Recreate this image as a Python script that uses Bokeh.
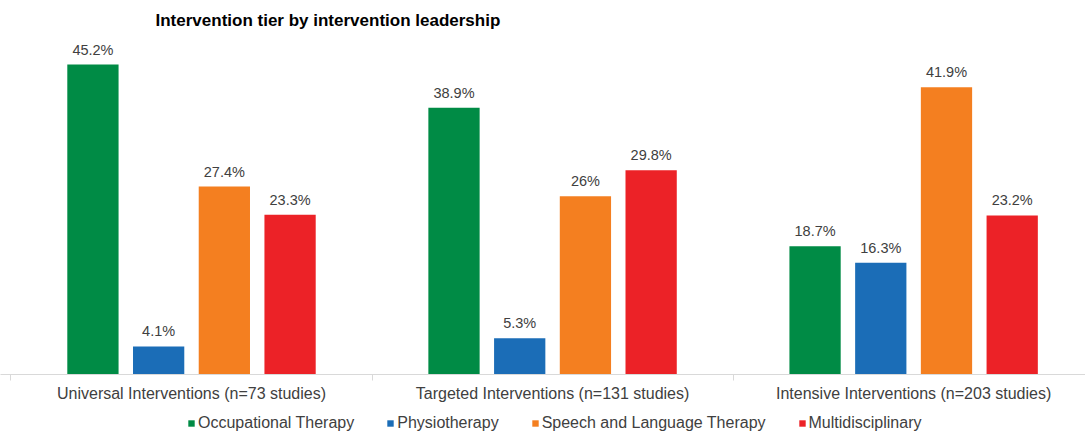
from bokeh.plotting import figure
from bokeh.layouts import column
from bokeh.models import (ColumnDataSource, Range1d, FixedTicker, LabelSet,
                          Legend, LegendItem)
from bokeh.core.properties import value
from bokeh.transform import dodge
from bokeh.embed import file_html
from bokeh.resources import INLINE

# ---- data ----
categories = ["Universal Interventions (n=73 studies)",
              "Targeted Interventions (n=131 studies)",
              "Intensive Interventions (n=203 studies)"]
series = ["Occupational Therapy", "Physiotherapy",
          "Speech and Language Therapy", "Multidisciplinary"]
occupational = [45.2, 38.9, 18.7]
physiotherapy = [4.1, 5.3, 16.3]
speech = [27.4, 26.0, 41.9]
multidisciplinary = [23.3, 29.8, 23.2]
values = [occupational, physiotherapy, speech, multidisciplinary]
colors = ["#008B45", "#1B6DB7", "#F47F20", "#EC2227"]
title_text = "Intervention tier by intervention leadership"

FONT = "Liberation Sans"
TXT = "#404040"

W = 1085
H_CHART, H_LEG = 408, 26

p = figure(width=W, height=H_CHART, output_backend="svg", toolbar_location=None,
           x_range=Range1d(-0.529, 2.476), y_range=Range1d(0, 50.16),
           y_axis_location=None, title=title_text,
           min_border_left=0, min_border_right=0,
           min_border_top=30, min_border_bottom=34)
p.outline_line_color = None
p.xgrid.grid_line_color = None
p.ygrid.grid_line_color = None
p.background_fill_color = "white"
p.border_fill_color = "white"

p.title.text_font = FONT
p.title.text_font_size = "17px"
p.title.text_font_style = "bold"
p.title.text_color = "#000000"
p.title.align = "left"
p.title.offset = 155
p.title.standoff = 2

idx = list(range(len(categories)))
offsets = [-0.273, -0.091, 0.091, 0.273]
bar_w = 0.142

sources = []
for name, vals, col, off in zip(series, values, colors, offsets):
    src = ColumnDataSource(dict(x=idx, v=vals, lab=[f"{v:g}%" for v in vals]))
    sources.append(src)
    p.vbar(x=dodge("x", off, range=p.x_range), top="v", width=bar_w,
           source=src, fill_color=col, line_color=None)
    ls = LabelSet(x=dodge("x", off, range=p.x_range), y="v", text="lab",
                  source=src, text_align="center", text_baseline="bottom",
                  y_offset=7, text_font=value(FONT), text_font_size=value("14.5px"),
                  text_color=TXT)
    p.add_layout(ls)

ax = p.xaxis[0]
ax.ticker = FixedTicker(ticks=idx, minor_ticks=[i - 0.5 for i in range(len(categories) + 1)])
ax.major_label_overrides = {i: c for i, c in enumerate(categories)}
ax.axis_line_color = "#D9D9D9"
ax.axis_line_width = 1
ax.major_tick_line_color = None
ax.major_tick_out = 0
ax.major_tick_in = 0
ax.minor_tick_line_color = "#D9D9D9"
ax.minor_tick_out = 6
ax.minor_tick_in = 0
ax.major_label_standoff = 4
ax.major_label_text_font = FONT
ax.major_label_text_font_size = "16px"
ax.major_label_text_color = TXT

# ---- legend strip (separate figure below the chart) ----
pl = figure(width=W, height=H_LEG, output_backend="svg", toolbar_location=None,
            x_range=Range1d(0, 1), y_range=Range1d(0, 1),
            x_axis_location=None, y_axis_location=None, min_border=0)
pl.outline_line_color = None
pl.grid.visible = False
items = []
for name, col, src in zip(series, colors, sources):
    # hidden proxy renderers: only their legend swatches are shown
    r = pl.vbar(x="x", top="v", width=0.1, source=src,
                fill_color=col, line_color=None, visible=False)
    items.append(LegendItem(label=name, renderers=[r]))
legend = Legend(items=items, orientation="horizontal", location=(187, 2),
                glyph_width=8, glyph_height=8, label_standoff=3, spacing=32,
                padding=0, margin=0, border_line_color=None,
                background_fill_alpha=0, inactive_fill_alpha=0,
                label_text_font=FONT, label_text_font_size="16px",
                label_text_color=TXT)
pl.add_layout(legend, "center")

layout = column(p, pl, spacing=0)
open("out.html", "w").write(file_html(layout, INLINE))
